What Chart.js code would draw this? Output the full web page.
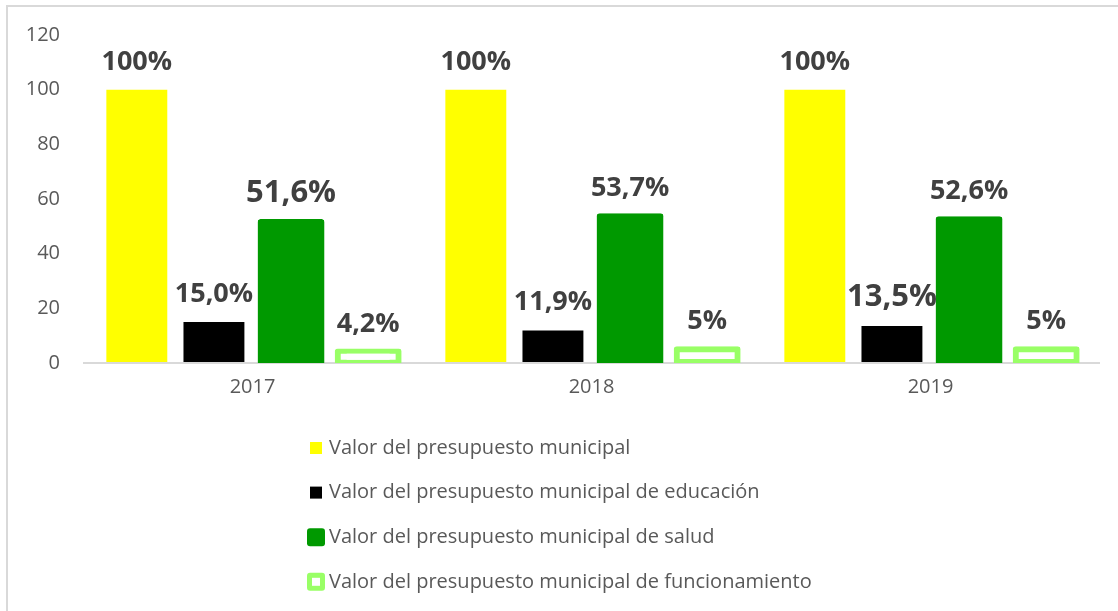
<!DOCTYPE html>
<html>
<head>
<meta charset="utf-8">
<script src="https://cdn.jsdelivr.net/npm/chart.js@4.4.1/dist/chart.umd.min.js"></script>
<style>
  html, body { margin: 0; padding: 0; background: #fff; }
  #wrap { position: relative; width: 1118px; height: 611px; overflow: hidden; }
  #frame { position: absolute; left: 6px; top: 5px; width: 1130px; height: 630px; border: 2px solid #d9d9d9; box-sizing: border-box; }
  #c { position: absolute; left: 0; top: 0; }
</style>
</head>
<body>
<div id="wrap">
  <div id="frame"></div>
  <canvas id="c" width="1118" height="611"></canvas>
</div>
<script>
// data
const years = ['2017', '2018', '2019'];
const seriesNames = [
  'Valor del presupuesto municipal',
  'Valor del presupuesto municipal de educación',
  'Valor del presupuesto municipal de salud',
  'Valor del presupuesto municipal de funcionamiento'
];
const municipal = [100, 100, 100];
const educacion = [15.0, 11.9, 13.5];
const salud = [51.6, 53.7, 52.6];
const funcionamiento = [4.2, 5, 5];

const municipalLabels = ['100%', '100%', '100%'];
const educacionLabels = ['15,0%', '11,9%', '13,5%'];
const saludLabels = ['51,6%', '53,7%', '52,6%'];
const funcionamientoLabels = ['4,2%', '5%', '5%'];

const yTicks = [0, 20, 40, 60, 80, 100, 120];

Chart.defaults.font.family = '"Open Sans", sans-serif';

// value labels above each bar
const valueLabels = {
  id: 'valueLabels',
  afterDatasetsDraw(chart) {
    const ctx = chart.ctx;
    chart.data.datasets.forEach((ds, i) => {
      const meta = chart.getDatasetMeta(i);
      meta.data.forEach((bar, j) => {
        ctx.save();
        ctx.font = 'bold ' + ds.labelSizes[j] + 'px "Open Sans"';
        ctx.fillStyle = '#404040';
        ctx.textAlign = 'center';
        ctx.textBaseline = 'alphabetic';
        ctx.fillText(ds.valueLabels[j], bar.x, bar.y - 20);
        ctx.restore();
      });
    });
  }
};

// one legend item per line, below the axis
const columnLegend = {
  id: 'columnLegend',
  afterDraw(chart) {
    const ctx = chart.ctx;
    const x0 = 316;
    let y = chart.chartArea.bottom + 85;
    chart.data.datasets.forEach(ds => {
      ctx.save();
      if (ds.borderWidth) {
        ctx.fillStyle = ds.borderColor;
        ctx.beginPath();
        ctx.roundRect(x0 - 9, y - 9, 18, 18, 3);
        ctx.fill();
        const inset = Math.min(ds.borderWidth, 5);
        ctx.fillStyle = ds.backgroundColor;
        ctx.fillRect(x0 - 9 + inset, y - 9 + inset, 18 - 2 * inset, 18 - 2 * inset);
      } else {
        ctx.fillStyle = ds.backgroundColor;
        ctx.fillRect(x0 - 6, y - 6, 12, 12);
      }
      ctx.font = '20px "Open Sans"';
      ctx.fillStyle = '#595959';
      ctx.textAlign = 'left';
      ctx.textBaseline = 'middle';
      ctx.fillText(ds.label, 329, y);
      ctx.restore();
      y += 44.6;
    });
  }
};

new Chart(document.getElementById('c'), {
  type: 'bar',
  data: {
    labels: years,
    datasets: [
      { label: seriesNames[0], data: municipal, valueLabels: municipalLabels, labelSizes: [27, 27, 27],
        backgroundColor: '#FFFF00', borderWidth: 0, inflateAmount: 0 },
      { label: seriesNames[1], data: educacion, valueLabels: educacionLabels, labelSizes: [27, 27, 31],
        backgroundColor: '#000000', borderWidth: 0, inflateAmount: 0 },
      { label: seriesNames[2], data: salud, valueLabels: saludLabels, labelSizes: [31, 27, 27],
        backgroundColor: '#009900', borderColor: '#009900', borderWidth: 2, borderRadius: 3,
        borderSkipped: false, inflateAmount: 3 },
      { label: seriesNames[3], data: funcionamiento, valueLabels: funcionamientoLabels, labelSizes: [27, 27, 27],
        backgroundColor: '#ffffff', borderColor: '#99FF66', borderWidth: 6, borderRadius: 3,
        borderSkipped: false, inflateAmount: 3 }
    ]
  },
  options: {
    responsive: false,
    animation: false,
    devicePixelRatio: 1,
    categoryPercentage: 0.91,
    barPercentage: 0.79,
    layout: { padding: { top: 35, right: 18, bottom: 198, left: 0 } },
    plugins: {
      legend: { display: false },
      tooltip: { enabled: false }
    },
    scales: {
      x: {
        grid: { display: false, drawTicks: false },
        border: { display: false },
        ticks: { color: '#595959', font: { size: 20 }, padding: 12 },
        afterFit: s => { s.height = 50; }
      },
      y: {
        min: 0,
        max: yTicks[yTicks.length - 1],
        afterBuildTicks: s => { s.ticks = yTicks.map(v => ({ value: v })); },
        grid: {
          drawTicks: false,
          lineWidth: 2,
          color: c => (c.tick && c.tick.value === 0 ? '#d9d9d9' : 'rgba(0,0,0,0)')
        },
        border: { display: false },
        ticks: { color: '#595959', font: { size: 20 }, padding: 23 },
        afterFit: s => { s.width = 83; }
      }
    }
  },
  plugins: [valueLabels, columnLegend]
});
</script>
</body>
</html>
